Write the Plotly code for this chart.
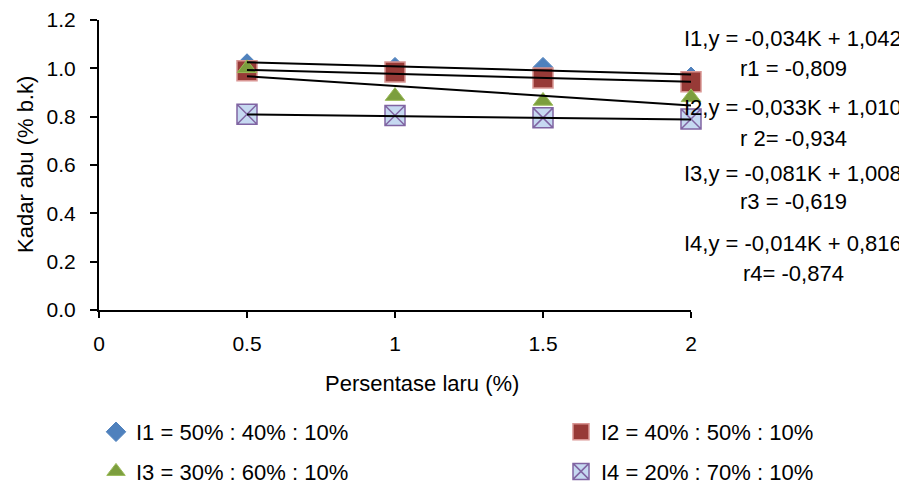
import plotly.graph_objects as go

# ---------------- data ----------------
x_pct = [0.5, 1.0, 1.5, 2.0]
series_names = ["I1 = 50% : 40% : 10%", "I2 = 40% : 50% : 10%",
                "I3 = 30% : 60% : 10%", "I4 = 20% : 70% : 10%"]
i1 = [1.02, 1.005, 1.005, 0.965]
i2 = [0.99, 0.985, 0.96, 0.945]
i3 = [1.00, 0.885, 0.865, 0.88]
i4 = [0.81, 0.805, 0.795, 0.79]

slopes = [-0.034, -0.033, -0.081, -0.014]
intercepts = [1.042, 1.010, 1.008, 0.816]
eq_labels = ["I1,y = -0,034K + 1,042", "r1 = -0,809",
             "I2,y = -0,033K + 1,010", "r 2= -0,934",
             "I3,y = -0,081K + 1,008", "r3 = -0,619",
             "I4,y = -0,014K + 0,816", "r4= -0,874"]

x_tickvals = [0, 0.5, 1, 1.5, 2]
x_ticktext = ["0", "0.5", "1", "1.5", "2"]
y_tickvals = [0.0, 0.2, 0.4, 0.6, 0.8, 1.0, 1.2]

# ---------------- layout geometry ----------------
W, H = 907, 488
OFF = 8                     # page body margin of the html page
PL, PT, PR, PB = 99, 20, 691, 310   # plot area on the page
L, T = PL - OFF, PT - OFF
PW, PH = PR - PL, PB - PT
R, B = W - L - PW, H - T - PH
FONT = "Liberation Sans, Arial, sans-serif"
FS = 22

def px(xp):
    return (xp - PL) / PW

def py(yp):
    return (PB - yp) / PH

styles = [
    dict(symbol="diamond", size=15, color="#4F81BD", line=dict(color="#4F81BD", width=1)),
    dict(symbol="square", size=20, color="#973A37", line=dict(color="#D99694", width=1.5)),
    dict(symbol="triangle-up", size=17, color="#7C9E3E", line=dict(color="#9BBB59", width=1)),
    dict(symbol="square-x", size=20, color="#C6D9F1", line=dict(color="#8064A2", width=1.5)),
]
legends = ["legend", "legend2", "legend", "legend2"]

fig = go.Figure()
for name, ys, st, lg in zip(series_names, [i1, i2, i3, i4], styles, legends):
    fig.add_trace(go.Scatter(x=x_pct, y=ys, mode="markers", name=name,
                             marker=st, cliponaxis=False, legend=lg,
                             legendgroup=name))

# linear trend lines (from printed equations)
for m, c in zip(slopes, intercepts):
    xs = [x_pct[0], x_pct[-1]]
    fig.add_trace(go.Scatter(x=xs, y=[m * v + c for v in xs], mode="lines",
                             line=dict(color="black", width=2),
                             showlegend=False, cliponaxis=False, hoverinfo="skip"))

ann_y = [38, 68, 107, 138, 173, 202, 243, 273]
annotations = []
for txt, yy in zip(eq_labels, ann_y):
    annotations.append(dict(text=txt, xref="paper", yref="paper", x=px(793), y=py(yy),
                            xanchor="center", yanchor="middle", showarrow=False,
                            font=dict(family=FONT, size=FS, color="black")))
annotations.append(dict(text="Persentase laru (%)", xref="paper", yref="paper",
                        x=px(422), y=py(383), xanchor="center", yanchor="middle",
                        showarrow=False, font=dict(family=FONT, size=FS, color="black")))
annotations.append(dict(text="Kadar abu (% b.k)", xref="paper", yref="paper",
                        x=px(25), y=py(165), xanchor="center", yanchor="middle",
                        textangle=-90, showarrow=False,
                        font=dict(family=FONT, size=FS, color="black")))

legend_common = dict(orientation="v", xanchor="left", yanchor="top",
                     font=dict(family=FONT, size=FS, color="black"),
                     bgcolor="rgba(0,0,0,0)", tracegroupgap=8, itemwidth=30)

fig.update_layout(
    width=W, height=H,
    margin=dict(l=L, r=R, t=T, b=B, autoexpand=False),
    paper_bgcolor="white", plot_bgcolor="white",
    font=dict(family=FONT, size=FS, color="black"),
    showlegend=True,
    legend=dict(x=px(96), y=py(411), **legend_common),
    legend2=dict(x=px(561), y=py(411), **legend_common),
    annotations=annotations,
    xaxis=dict(range=[0, 2], tickvals=x_tickvals, ticktext=x_ticktext,
               showgrid=False, zeroline=False, showline=True, linecolor="black",
               linewidth=2, ticks="outside", ticklen=6, tickwidth=2, tickcolor="black",
               ticklabelstandoff=8, tickfont=dict(family=FONT, size=21)),
    yaxis=dict(range=[0, 1.2], tickvals=y_tickvals, tickformat=".1f",
               showgrid=False, zeroline=False, showline=True, linecolor="black",
               linewidth=2, ticks="outside", ticklen=7, tickwidth=2, tickcolor="black",
               ticklabelstandoff=10, tickfont=dict(family=FONT, size=21)),
)

fig.write_html("out.html")
